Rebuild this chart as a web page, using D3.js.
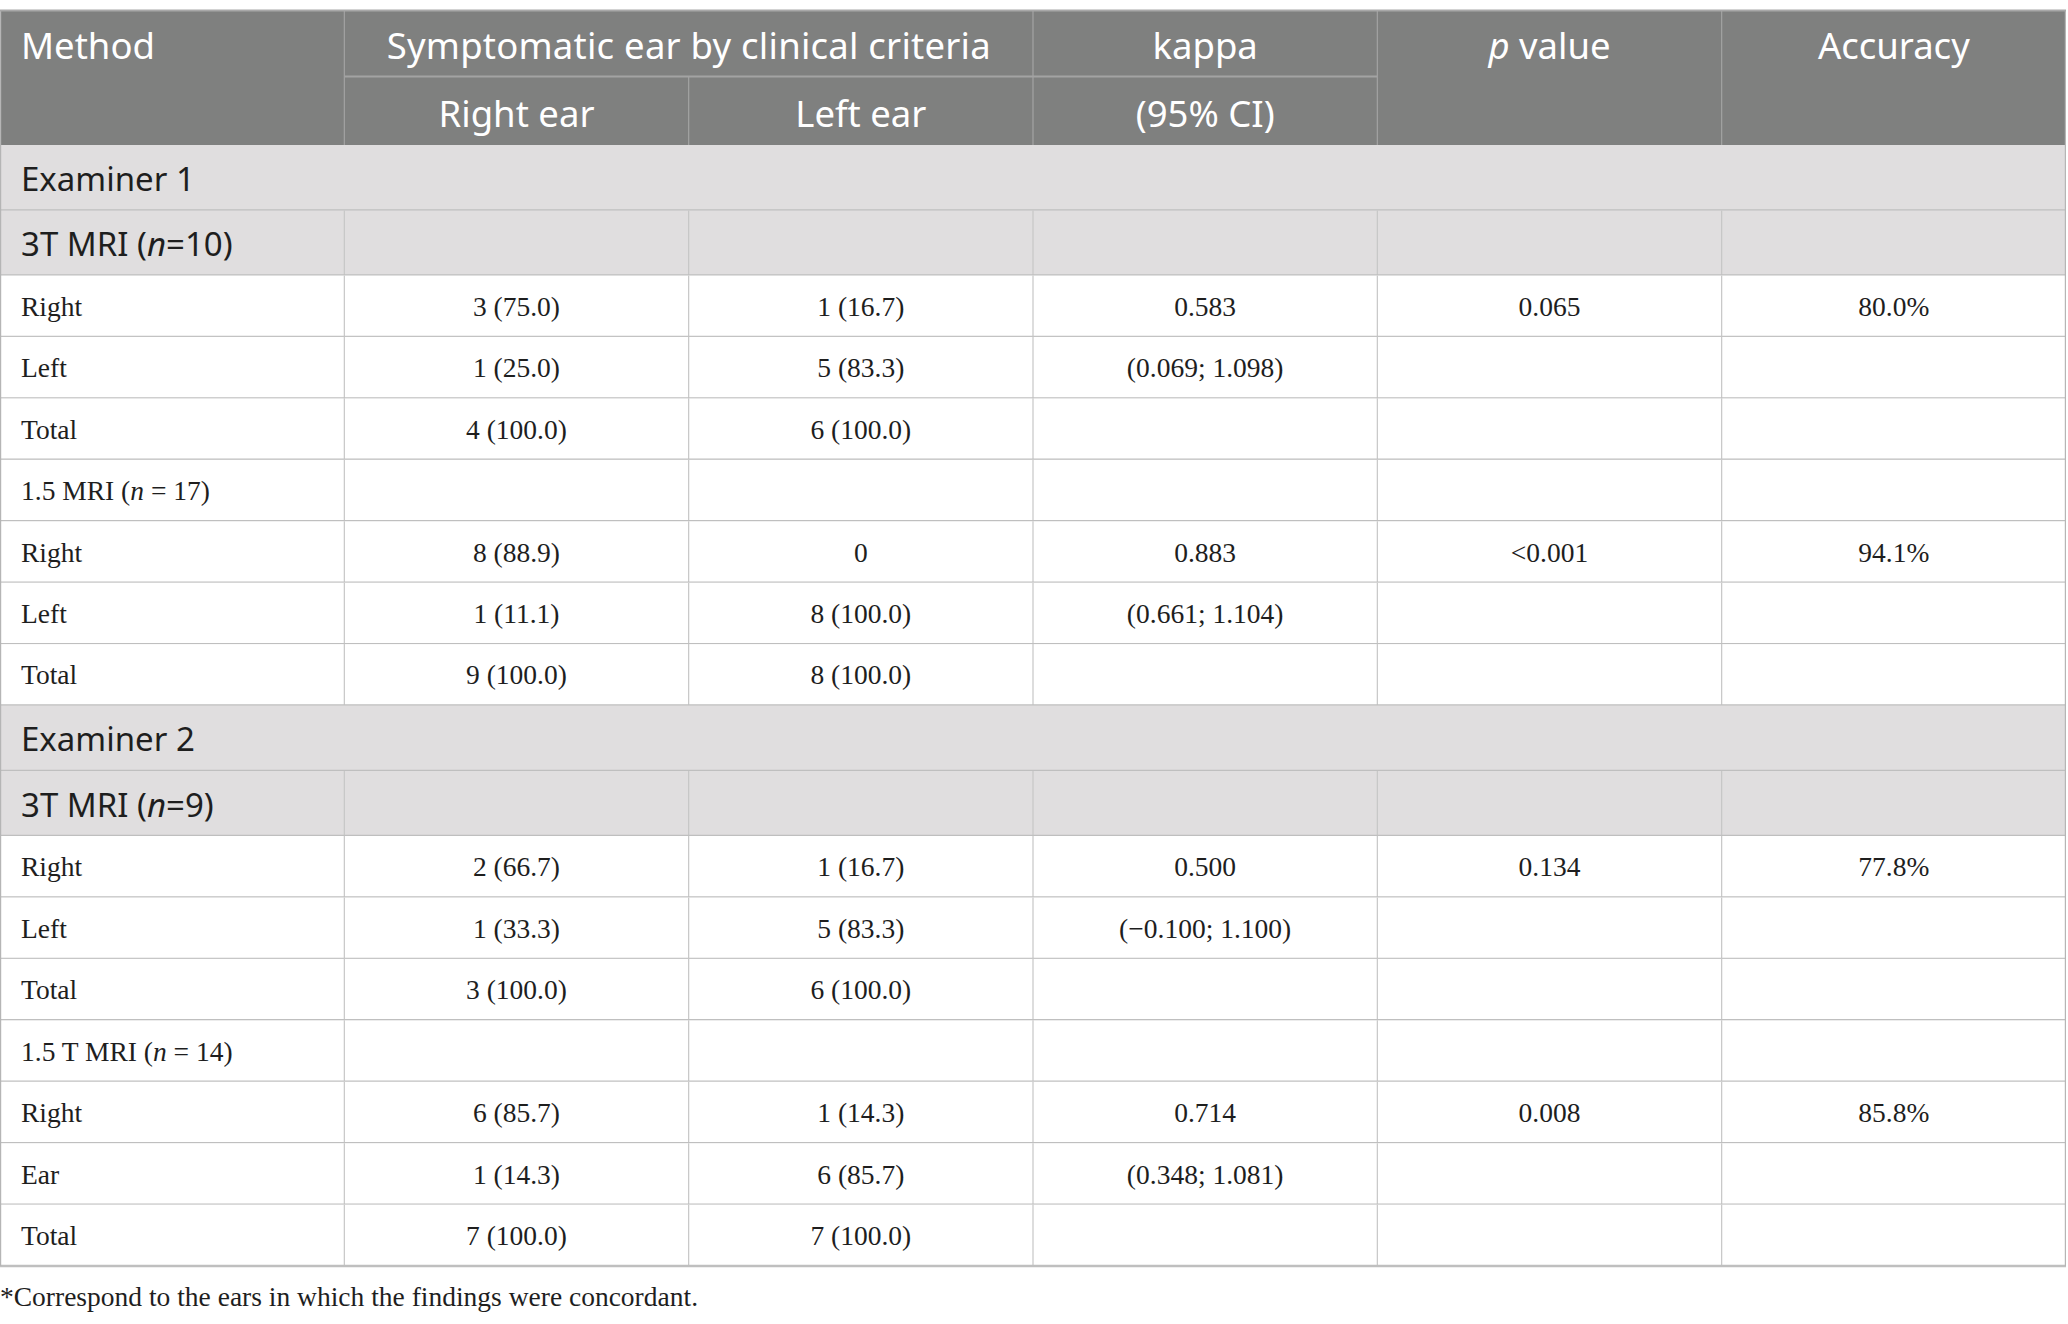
<!DOCTYPE html>
<html>
<head>
<meta charset="utf-8">
<script src="https://cdn.jsdelivr.net/npm/d3@7"></script>
<style>
  body { margin: 0; background: #fff; }
</style>
</head>
<body>
<div id="chart"></div>
<script>
"use strict";

// ---- table content ----
var headTop = ["Method", "Symptomatic ear by clinical criteria", "kappa", "p value", "Accuracy"];
var headSub = ["Right ear", "Left ear", "(95% CI)"];

// row kinds: "group" = examiner band, "sub" = grey method row, "plain" = white method row, "data"
var rowKinds = ["group", "sub", "data", "data", "data", "plain", "data", "data", "data",
                "group", "sub", "data", "data", "data", "plain", "data", "data", "data"];
var rowLabels = ["Examiner 1", "3T MRI (|n|=10)", "Right", "Left", "Total", "1.5 MRI (|n| = 17)", "Right", "Left", "Total",
                 "Examiner 2", "3T MRI (|n|=9)", "Right", "Left", "Total", "1.5 T MRI (|n| = 14)", "Right", "Ear", "Total"];
var rightEar = ["", "", "3 (75.0)", "1 (25.0)", "4 (100.0)", "", "8 (88.9)", "1 (11.1)", "9 (100.0)",
                "", "", "2 (66.7)", "1 (33.3)", "3 (100.0)", "", "6 (85.7)", "1 (14.3)", "7 (100.0)"];
var leftEar = ["", "", "1 (16.7)", "5 (83.3)", "6 (100.0)", "", "0", "8 (100.0)", "8 (100.0)",
               "", "", "1 (16.7)", "5 (83.3)", "6 (100.0)", "", "1 (14.3)", "6 (85.7)", "7 (100.0)"];
var kappa = ["", "", "0.583", "(0.069; 1.098)", "", "", "0.883", "(0.661; 1.104)", "",
             "", "", "0.500", "(\u22120.100; 1.100)", "", "", "0.714", "(0.348; 1.081)", ""];
var pValue = ["", "", "0.065", "", "", "", "<0.001", "", "",
              "", "", "0.134", "", "", "", "0.008", "", ""];
var accuracy = ["", "", "80.0%", "", "", "", "94.1%", "", "",
                "", "", "77.8%", "", "", "", "85.8%", "", ""];
var footnote = "*Correspond to the ears in which the findings were concordant.";

// ---- layout ----
var W = 2068, H = 1324,
    top0 = 10.5, tableW = 2066,
    headH = [66, 68.5],
    kindH = {group: 65.5, sub: 65, plain: 61.43, data: 61.43};

var sans = "'Noto Sans', 'Open Sans', sans-serif",
    serif = "'Liberation Serif', 'DejaVu Serif', serif";

var x = d3.scaleBand().domain(d3.range(6)).range([0, tableW]);
var cw = x.bandwidth();

var bodyTop = top0 + headH[0] + headH[1];
var rows = rowKinds.map(function(k, i) {
    return {kind: k, label: rowLabels[i],
            cells: [rightEar[i], leftEar[i], kappa[i], pValue[i], accuracy[i]]};
});
var yy = bodyTop;
rows.forEach(function(r) { r.y = yy; r.h = kindH[r.kind]; yy += r.h; });
var bodyBottom = yy;

var svg = d3.select("#chart").append("svg")
    .attr("width", W).attr("height", H);

// text with |italic| segments
function richText(sel, str) {
    str.split("|").forEach(function(part, i) {
        if (part === "") return;
        sel.append("tspan").attr("font-style", i % 2 ? "italic" : null).text(part);
    });
}

// ---- header ----
var head = svg.append("g");
head.append("rect").attr("x", 0).attr("y", top0).attr("width", tableW)
    .attr("height", headH[0] + headH[1]).attr("fill", "#7f807f");

// header grid lines
var hMid = top0 + headH[0];
[1, 2, 3, 4, 5].forEach(function(c) {
    var y1 = (c === 2) ? hMid : top0;
    head.append("line").attr("x1", x(c)).attr("x2", x(c))
        .attr("y1", y1).attr("y2", bodyTop)
        .attr("stroke", "#a3a3a3").attr("stroke-width", 1.2);
});
head.append("line").attr("x1", x(1)).attr("x2", x(4))
    .attr("y1", hMid).attr("y2", hMid)
    .attr("stroke", "#a3a3a3").attr("stroke-width", 2);

var hy1 = top0 + headH[0] / 2 + 3, hy2 = hMid + headH[1] / 2 + 3;
var headCells = [
    {t: headTop[0], x: 21, a: "start", y: hy1},
    {t: headTop[1], x: x(1) + cw, a: "middle", y: hy1},
    {t: headTop[2], x: x(3) + cw / 2, a: "middle", y: hy1},
    {t: "|p| value", x: x(4) + cw / 2, a: "middle", y: hy1},
    {t: headTop[4], x: x(5) + cw / 2, a: "middle", y: hy1},
    {t: headSub[0], x: x(1) + cw / 2, a: "middle", y: hy2},
    {t: headSub[1], x: x(2) + cw / 2, a: "middle", y: hy2},
    {t: headSub[2], x: x(3) + cw / 2, a: "middle", y: hy2}
];
head.selectAll("text.h").data(headCells).enter().append("text")
    .attr("class", "h")
    .attr("x", function(d) { return d.x; })
    .attr("y", function(d) { return d.y; })
    .attr("dy", "0.35em")
    .attr("text-anchor", function(d) { return d.a; })
    .attr("font-family", sans).attr("font-size", 36.5).attr("fill", "#fff")
    .attr("textLength", function(d) { return d.t === headTop[1] ? 604 : null; })
    .each(function(d) { richText(d3.select(this), d.t); });

// ---- body ----
var body = svg.append("g");
var rg = body.selectAll("g.row").data(rows).enter().append("g").attr("class", "row");

rg.append("rect")
    .attr("x", 0).attr("y", function(d) { return d.y; })
    .attr("width", tableW).attr("height", function(d) { return d.h; })
    .attr("fill", function(d) { return (d.kind === "group" || d.kind === "sub") ? "#e0dedf" : "#fff"; });

// vertical cell lines (not in examiner bands)
rg.filter(function(d) { return d.kind !== "group"; })
  .selectAll("line.v").data(function(d) { return [1, 2, 3, 4, 5].map(function(c) { return {c: c, r: d}; }); })
  .enter().append("line").attr("class", "v")
    .attr("x1", function(d) { return x(d.c); }).attr("x2", function(d) { return x(d.c); })
    .attr("y1", function(d) { return d.r.y; }).attr("y2", function(d) { return d.r.y + d.r.h; })
    .attr("stroke", "#c6c6c6").attr("stroke-width", 1.2);

// horizontal lines under each row
rg.append("line")
    .attr("x1", 0).attr("x2", tableW)
    .attr("y1", function(d) { return d.y + d.h; }).attr("y2", function(d) { return d.y + d.h; })
    .attr("stroke", "#bfbfbf").attr("stroke-width", 2.4);

// outer side borders
[0.6, tableW - 0.6].forEach(function(xx) {
    body.append("line").attr("x1", xx).attr("x2", xx)
        .attr("y1", top0).attr("y2", bodyBottom)
        .attr("stroke", "#b5b5b5").attr("stroke-width", 1.2);
});
svg.append("line").attr("x1", 0).attr("x2", tableW)
    .attr("y1", top0).attr("y2", top0)
    .attr("stroke", "#a8a8a8").attr("stroke-width", 2);

// row labels
rg.append("text")
    .attr("x", 21)
    .attr("y", function(d) { return d.y + d.h / 2 + ((d.kind === "group" || d.kind === "sub") ? 1.5 : 0); })
    .attr("dy", "0.35em")
    .attr("font-family", function(d) { return (d.kind === "group" || d.kind === "sub") ? sans : serif; })
    .attr("font-size", function(d) { return (d.kind === "group" || d.kind === "sub") ? 33 : 27.5; })
    .attr("fill", "#1e1e1e")
    .each(function(d) { richText(d3.select(this), d.label); });

// cell values
rg.selectAll("text.c").data(function(d) {
        return d.cells.map(function(v, i) { return {v: v, c: i + 1, r: d}; })
                      .filter(function(e) { return e.v !== ""; });
    })
  .enter().append("text").attr("class", "c")
    .attr("x", function(d) { return x(d.c) + cw / 2; })
    .attr("y", function(d) { return d.r.y + d.r.h / 2; })
    .attr("dy", "0.35em")
    .attr("text-anchor", "middle")
    .attr("font-family", serif).attr("font-size", 27.5).attr("fill", "#1e1e1e")
    .text(function(d) { return d.v; });

// footnote
svg.append("text")
    .attr("x", 0).attr("y", bodyBottom + 30).attr("dy", "0.35em")
    .attr("font-family", serif).attr("font-size", 27.5).attr("fill", "#1e1e1e")
    .text(footnote);
</script>
</body>
</html>
